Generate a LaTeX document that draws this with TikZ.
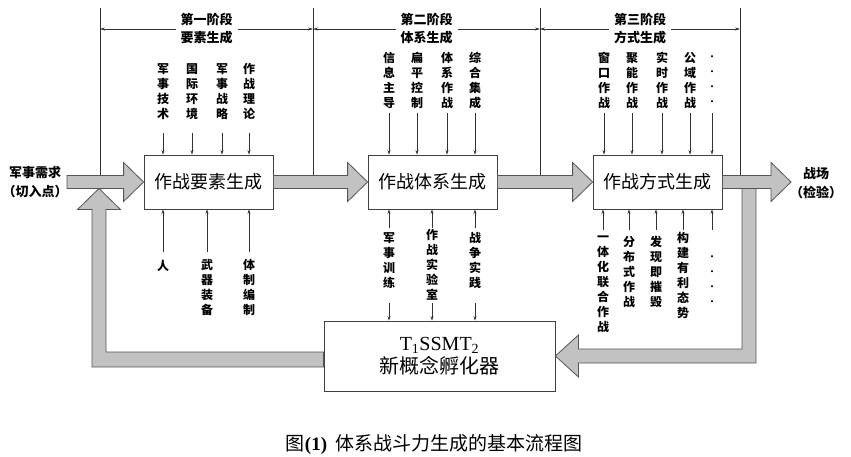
\documentclass[tikz,border=0pt]{standalone}
\usepackage{fontspec}
\setmainfont{Liberation Serif}
\newfontfamily\cjk{Noto Sans CJK SC}
\usetikzlibrary{arrows.meta}
\usetikzlibrary{calc}

\definecolor{fatfill}{RGB}{194,194,194}
\definecolor{fatline}{RGB}{85,85,85}

\begin{document}
\begin{tikzpicture}[x=1pt, y=-1pt,
    stage/.style={draw=black!75, line width=0.8pt, fill=white, minimum width=129, minimum height=54, inner sep=0pt, font=\cjk\fontsize{18}{20}\selectfont},
    lbl/.style={anchor=north, inner sep=0pt, align=center, font=\cjk\bfseries\fontsize{12}{15}\selectfont},
    dots/.style={lbl, font=\cjk\fontsize{10}{15}\selectfont},
    phase/.style={fill=white, inner xsep=5pt, inner ysep=1pt, align=center, font=\cjk\bfseries\fontsize{13}{18}\selectfont},
    side/.style={inner sep=0pt, align=center, font=\cjk\bfseries\fontsize{13}{19}\selectfont},
    fat/.style={draw=fatline, line width=0.8pt, fill=fatfill, line join=miter},
    feed/.style={draw=black!80, line width=0.6pt, -{Stealth[length=4.5pt, width=3pt]}},
    dim/.style={draw=black!80, line width=0.6pt, {Stealth[length=5pt, width=3pt]}-{Stealth[length=5pt, width=3pt]}}]

    \useasboundingbox (0,0) rectangle (851,457);

    \def\shaft{6.5pt} % half height of the fat shafts
    \def\head{19.5pt} % half height of the fat heads
    \def\headlen{20pt}

    % the three stages and the incubator
    \node[stage] (s1) at (208.5,182) {作战要素生成};
    \node[stage] (s2) at (432.5,182) {作战体系生成};
    \node[stage] (s3) at (657.5,182) {作战方式生成};
    \node[stage, minimum width=231, minimum height=70, align=center, font=\fontsize{20}{23}\selectfont] (inc) at (439.5,356)
      {T\textsubscript{1}SSMT\textsubscript{2}\\{\cjk 新概念孵化器}};

    \coordinate (in) at (67,182);
    \coordinate (out) at (791,182);
    \coordinate (rt) at (749,188.5);
    \coordinate (lt) at (99,188.5);

    % phase guide lines
    \foreach \i/\x in {0/100,1/313,2/540,3/740} {
      \coordinate (v\i) at (\x,29);
      \draw[black!80, line width=0.7pt] (\x,8) -- (\x,175.5);
    }
    \draw[dim] (v0) -- node[phase] (p1) {第一阶段\\要素生成} (v1);
    \draw[dim] (v1) -- node[phase] (p2) {第二阶段\\体系生成} (v2);
    \draw[dim] (v2) -- node[phase] (p3) {第三阶段\\方式生成} (v3);

    % return loops
    \draw[fat] let \p1=(rt), \p2=(inc.east) in
      (\x1-7pt,\y1) -- (\x1-7pt,\y2+7pt) -- (\x2+23pt,\y2+7pt) -- (\x2+23pt,\y2+21pt) -- (\p2)
      -- (\x2+23pt,\y2-21pt) -- (\x2+23pt,\y2-7pt) -- (\x1+7pt,\y2-7pt) -- (\x1+7pt,\y1) -- cycle;
    \draw[fat] let \p1=(inc.west), \p2=(lt) in
      (\x1,\y1+4pt) -- (\x2+7pt,\y1+4pt) -- (\x2+7pt,\y2-21pt) -- (\x2+21.5pt,\y2-21pt) -- (\p2)
      -- (\x2-21.5pt,\y2-21pt) -- (\x2-7pt,\y2-21pt) -- (\x2-7pt,\y1-11pt) -- (\x1,\y1-11pt) -- cycle;

    % main flow
    \draw[fat] let \p1=(in), \p2=(s1.west) in
      (\x1,\y2+\shaft) -- (\x2-\headlen,\y2+\shaft) -- (\x2-\headlen,\y2+\head) -- (\p2)
      -- (\x2-\headlen,\y2-\head) -- (\x2-\headlen,\y2-\shaft) -- (\x1,\y2-\shaft) -- cycle;
    \draw[fat] let \p1=(s1.east), \p2=(s2.west) in
      (\x1,\y2+\shaft) -- (\x2-\headlen,\y2+\shaft) -- (\x2-\headlen,\y2+\head) -- (\p2)
      -- (\x2-\headlen,\y2-\head) -- (\x2-\headlen,\y2-\shaft) -- (\x1,\y2-\shaft) -- cycle;
    \draw[fat] let \p1=(s2.east), \p2=(s3.west) in
      (\x1,\y2+\shaft) -- (\x2-\headlen,\y2+\shaft) -- (\x2-\headlen,\y2+\head) -- (\p2)
      -- (\x2-\headlen,\y2-\head) -- (\x2-\headlen,\y2-\shaft) -- (\x1,\y2-\shaft) -- cycle;
    \draw[fat] let \p1=(s3.east), \p2=(out) in
      (\x1,\y2+\shaft) -- (\x2-\headlen,\y2+\shaft) -- (\x2-\headlen,\y2+\head) -- (\p2)
      -- (\x2-\headlen,\y2-\head) -- (\x2-\headlen,\y2-\shaft) -- (\x1,\y2-\shaft) -- cycle;

    \node[side] (need) at (35,182.5) {军事需求\\（切入点）};
    \node[side] (field) at (816,183) {战场\\（检验）};

    % inputs from above
    \node[lbl] (t11) at (163,63) {军\\事\\技\\术};
    \node[lbl] (t12) at (192,63) {国\\际\\环\\境};
    \node[lbl] (t13) at (222,63) {军\\事\\战\\略};
    \node[lbl] (t14) at (249,63) {作\\战\\理\\论};

    \node[lbl] (t21) at (389,52) {信\\息\\主\\导};
    \node[lbl] (t22) at (417,52) {扁\\平\\控\\制};
    \node[lbl] (t23) at (447,52) {体\\系\\作\\战};
    \node[lbl] (t24) at (475,52) {综\\合\\集\\成};

    \node[lbl] (t31) at (604,52) {窗\\口\\作\\战};
    \node[lbl] (t32) at (632,52) {聚\\能\\作\\战};
    \node[lbl] (t33) at (662,52) {实\\时\\作\\战};
    \node[lbl] (t34) at (690,52) {公\\域\\作\\战};
    \node[dots] (t35) at (712,52) {\vphantom{军}·\\·\\·\\·};

    \foreach \n in {t11,t12,t13,t14}
      \draw[feed] (\n |- 0,133) -- (\n |- s1.north);
    \foreach \n in {t21,t22,t23,t24}
      \draw[feed] (\n |- 0,113) -- (\n |- s2.north);
    \foreach \n in {t31,t32,t33,t34,t35}
      \draw[feed] (\n |- 0,113) -- (\n |- s3.north);

    % inputs from below
    \node[lbl] (b11) at (163,260) {人};
    \node[lbl] (b12) at (207,259) {武\\器\\装\\备};
    \node[lbl] (b13) at (249,259) {体\\制\\编\\制};

    \node[lbl] (b21) at (389,232) {军\\事\\训\\练};
    \node[lbl] (b22) at (432,229) {作\\战\\实\\验\\室};
    \node[lbl] (b23) at (475,232) {战\\争\\实\\践};

    \node[lbl] (b31) at (603,231) {\vphantom{军}一\\体\\化\\联\\合\\作\\战};
    \node[lbl] (b32) at (629,236) {分\\布\\式\\作\\战};
    \node[lbl] (b33) at (656,236) {发\\现\\即\\摧\\毁};
    \node[lbl] (b34) at (683,232) {构\\建\\有\\利\\态\\势};
    \node[dots] (b35) at (712,252) {\vphantom{军}·\\·\\·\\·};

    \foreach \n in {b11,b12,b13}
      \draw[feed] (\n |- 0,252) -- (\n |- s1.south);
    \foreach \n in {b21,b22,b23} {
      \draw[feed] (\n |- 0,228) -- (\n |- s2.south);
      \draw[feed] (\n |- 0,303) -- (\n |- inc.north);
    }
    \foreach \n in {b31,b32,b33,b34,b35}
      \draw[feed] (\n |- 0,230) -- (\n |- s3.south);

    \node[font=\cjk\fontsize{19}{20}\selectfont] (cap) at (434,445)
      {图{\rmfamily\bfseries (1)}\hspace{8pt}体系战斗力生成的基本流程图};

\end{tikzpicture}
\end{document}
